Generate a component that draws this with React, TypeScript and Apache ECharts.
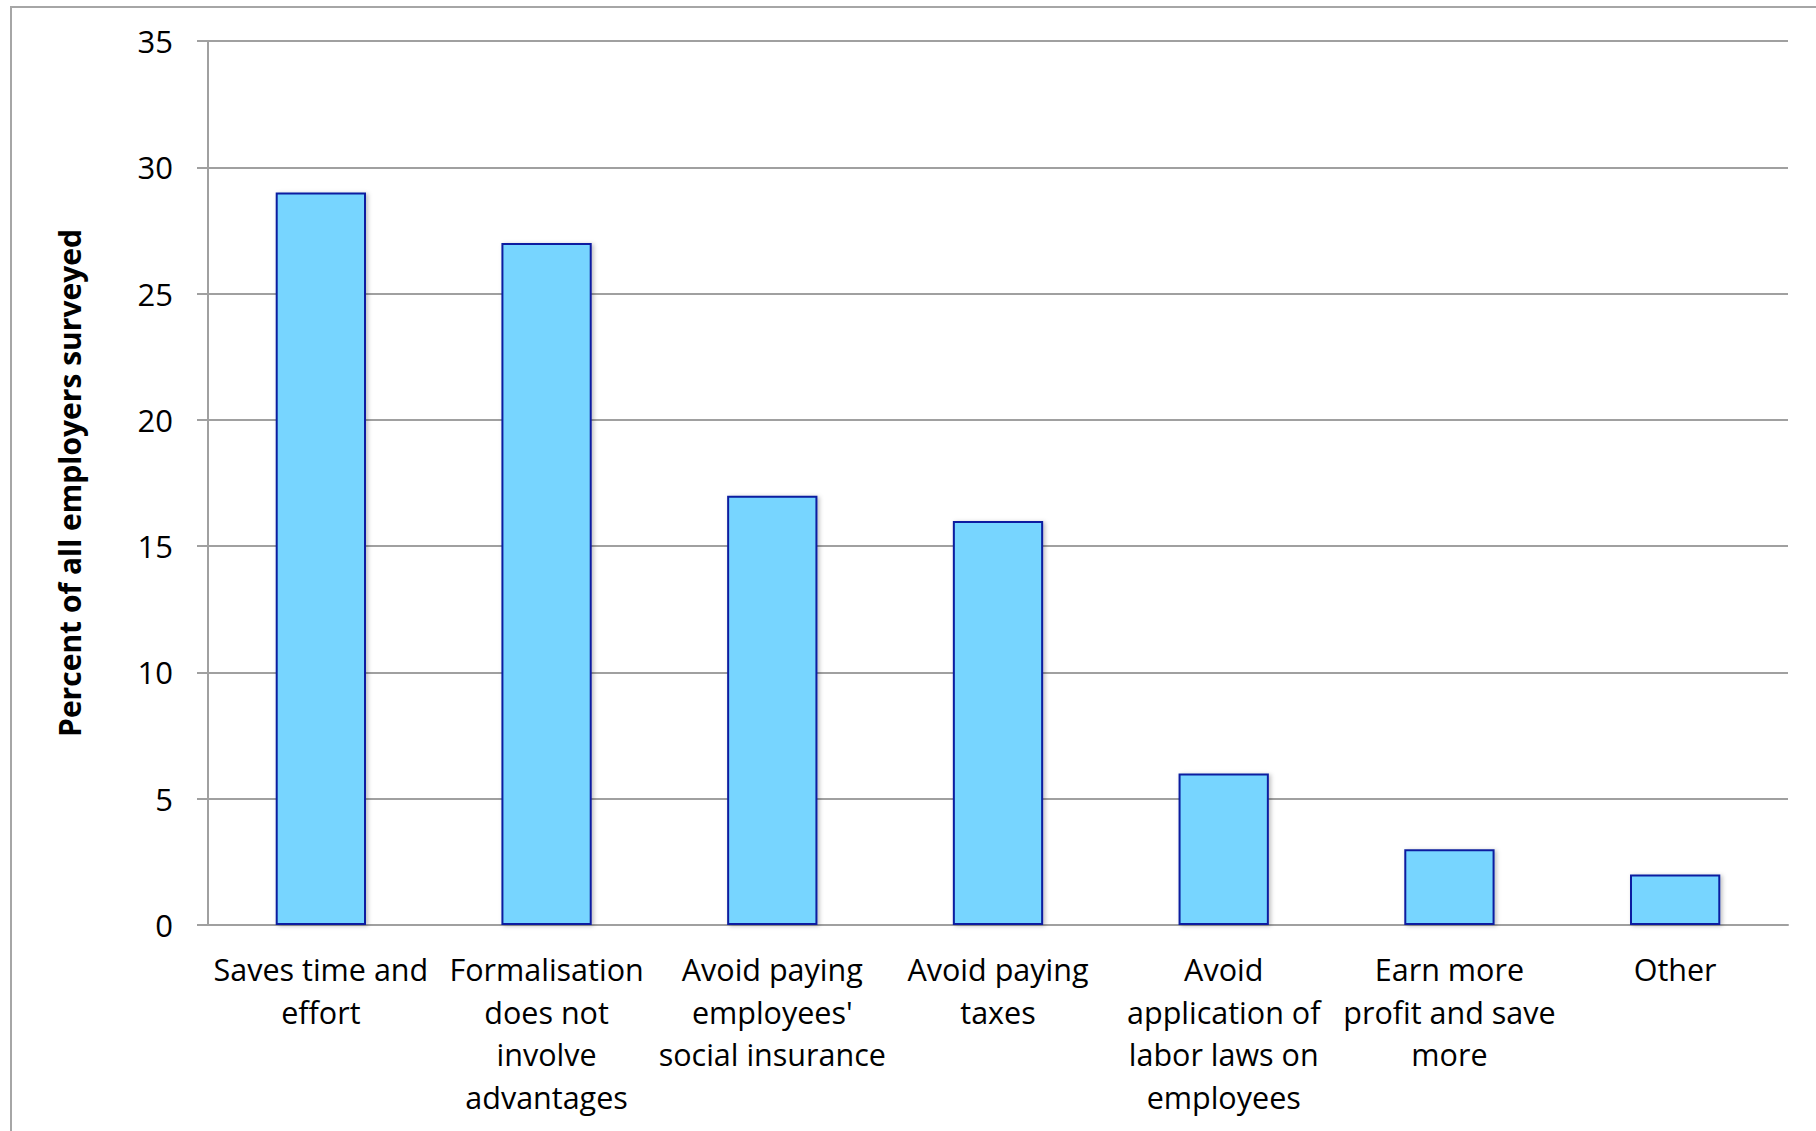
import React, { useEffect, useRef } from "react";
import * as echarts from "echarts";

const categories = [
  "Saves time and\neffort",
  "Formalisation\ndoes not\ninvolve\nadvantages",
  "Avoid paying\nemployees'\nsocial insurance",
  "Avoid paying\ntaxes",
  "Avoid\napplication of\nlabor laws on\nemployees",
  "Earn more\nprofit and save\nmore",
  "Other",
];
const values = [29, 27, 17, 16, 6, 3, 2];
const yTicks = { min: 0, max: 35, interval: 5 };
const yAxisTitle = "Percent of all employers surveyed";

export default function App() {
  const ref = useRef<HTMLDivElement>(null);
  useEffect(() => {
    document.body.style.margin = "0";
    const chart = echarts.init(ref.current!, null, { renderer: "svg" });
    const font = "'Open Sans', sans-serif";
    chart.setOption({
      animation: false,
      backgroundColor: "#ffffff",
      graphic: [
        {
          type: "rect",
          shape: { x: 11, y: 7, width: 1900, height: 1300 },
          style: { fill: "none", stroke: "#a6a6a6", lineWidth: 2 },
          silent: true,
        },
      ],
      grid: { left: 208, right: 28, top: 41, bottom: 206, containLabel: false },
      xAxis: {
        type: "category",
        data: categories,
        axisLine: { lineStyle: { color: "#a0a0a0", width: 2 } },
        axisTick: { show: false },
        axisLabel: {
          interval: 0,
          color: "#000",
          fontFamily: font,
          fontSize: 30.5,
          lineHeight: 42.5,
          margin: 23,
        },
      },
      yAxis: {
        type: "value",
        min: yTicks.min,
        max: yTicks.max,
        interval: yTicks.interval,
        name: yAxisTitle,
        nameLocation: "middle",
        nameRotate: 90,
        nameGap: 124,
        nameTextStyle: {
          color: "#000",
          fontFamily: font,
          fontSize: 30,
          fontWeight: "bold",
        },
        axisLine: { show: true, lineStyle: { color: "#a0a0a0", width: 2 } },
        axisTick: { show: true, length: 11, lineStyle: { color: "#a0a0a0", width: 2 } },
        splitLine: { lineStyle: { color: "#a0a0a0", width: 2 } },
        axisLabel: {
          color: "#000",
          fontFamily: font,
          fontSize: 31,
          margin: 35,
        },
      },
      series: [
        {
          type: "bar",
          data: values,
          barWidth: "40%",
          itemStyle: {
            color: "#77d5ff",
            borderColor: "#0a1fa0",
            borderWidth: 2,
            shadowColor: "rgba(0,0,0,0.25)",
            shadowBlur: 4,
            shadowOffsetX: 2,
            shadowOffsetY: 1,
          },
        },
      ],
    });
    return () => chart.dispose();
  }, []);
  return <div ref={ref} style={{ width: 1816, height: 1131 }} />;
}
